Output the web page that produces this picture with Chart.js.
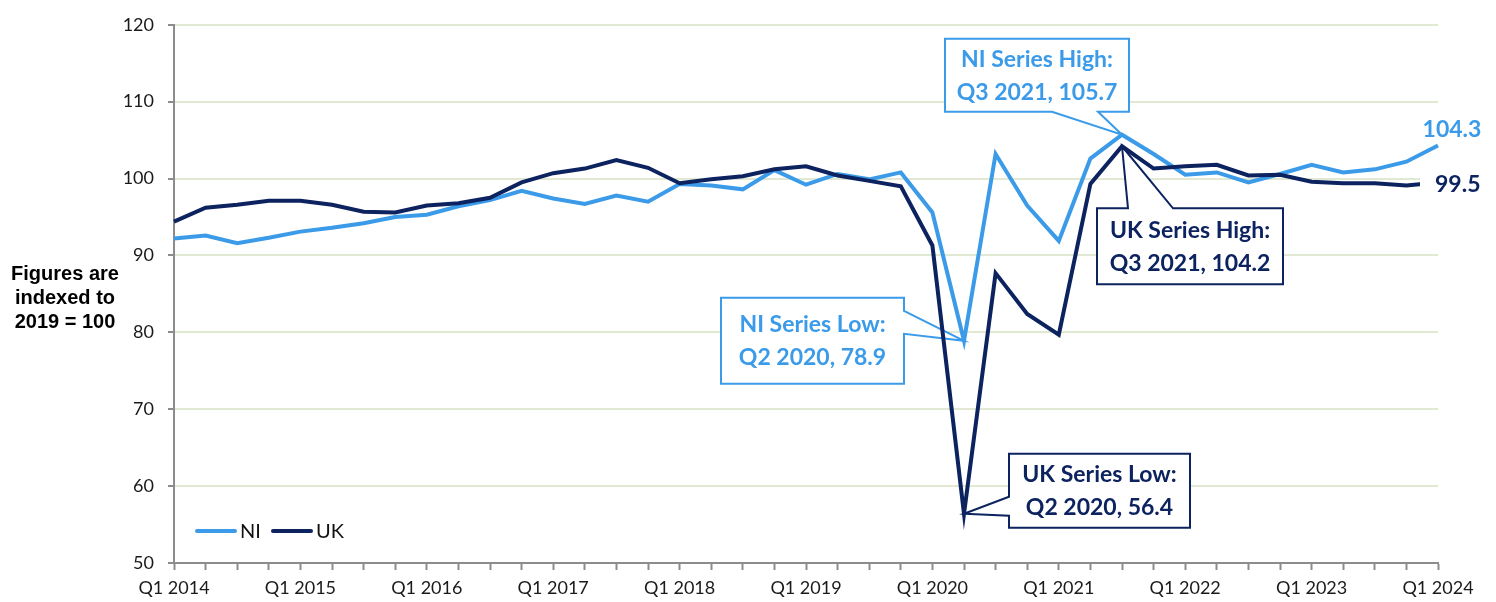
<!DOCTYPE html>
<html>
<head>
<meta charset="utf-8">
<title>NI and UK index, 2019 = 100</title>
<script src="https://cdn.jsdelivr.net/npm/chart.js@4.4.1/dist/chart.umd.min.js"></script>
<style>
  html, body { margin: 0; padding: 0; background: #fff; }
  #wrap { width: 1496px; height: 602px; }
</style>
</head>
<body>
<div id="wrap"><canvas id="indexChart" width="1496" height="602"></canvas></div>
<script>
const quarters = [
  "Q1 2014", "Q2 2014", "Q3 2014", "Q4 2014",
  "Q1 2015", "Q2 2015", "Q3 2015", "Q4 2015",
  "Q1 2016", "Q2 2016", "Q3 2016", "Q4 2016",
  "Q1 2017", "Q2 2017", "Q3 2017", "Q4 2017",
  "Q1 2018", "Q2 2018", "Q3 2018", "Q4 2018",
  "Q1 2019", "Q2 2019", "Q3 2019", "Q4 2019",
  "Q1 2020", "Q2 2020", "Q3 2020", "Q4 2020",
  "Q1 2021", "Q2 2021", "Q3 2021", "Q4 2021",
  "Q1 2022", "Q2 2022", "Q3 2022", "Q4 2022",
  "Q1 2023", "Q2 2023", "Q3 2023", "Q4 2023",
  "Q1 2024"
];
const niValues = [
  92.2, 92.6, 91.6, 92.3,
  93.1, 93.6, 94.2, 95.0,
  95.3, 96.4, 97.2, 98.4,
  97.4, 96.7, 97.8, 97.0,
  99.3, 99.1, 98.6, 101.1,
  99.2, 100.6, 99.9, 100.8,
  95.6, 78.9, 103.2, 96.5,
  91.9, 102.6, 105.7, 103.2,
  100.5, 100.8, 99.5, 100.6,
  101.8, 100.8, 101.2, 102.2,
  104.3
];
const ukValues = [
  94.4, 96.2, 96.6, 97.1,
  97.1, 96.6, 95.7, 95.6,
  96.5, 96.8, 97.5, 99.5,
  100.7, 101.3, 102.4, 101.4,
  99.4, 99.9, 100.3, 101.2,
  101.6, 100.4, 99.7, 99.0,
  91.3, 56.4, 87.7, 82.4,
  79.7, 99.3, 104.2, 101.3,
  101.6, 101.8, 100.4, 100.5,
  99.6, 99.4, 99.4, 99.1,
  99.5
];
const yMin = 50;
const yMax = 120;
const yStep = 10;
const seriesNames = ["NI", "UK"];
const seriesColors = ["#3b9be9", "#0c2360"];
const axisTitle = ["Figures are", "indexed to", "2019 = 100"];

// callouts: which series, which quarter, what it says
const calloutSeries = [0, 0, 1, 1];
const calloutQuarter = ["Q3 2021", "Q2 2020", "Q3 2021", "Q2 2020"];
const calloutText = [
  ["NI Series High:", "Q3 2021, 105.7"],
  ["NI Series Low:", "Q2 2020, 78.9"],
  ["UK Series High:", "Q3 2021, 104.2"],
  ["UK Series Low:", "Q2 2020, 56.4"]
];
const endLabels = ["104.3", "99.5"];

// box offsets from the point they point at (pixels), and where the pointer leaves the box
const calloutBoxes = [
  { l: -177, r: 7, t: -96, b: -23, side: "bottom", a: -70, z: -24 },
  { l: -243, r: -60, t: -43, b: 43, side: "right", a: -30, z: -7 },
  { l: -25, r: 161, t: 62, b: 138, side: "top", a: 6, z: 51 },
  { l: 45, r: 226, t: -60, b: 14, side: "left", a: -17, z: 2 }
];

const annotFont = "bold 23px Lato";

function calloutPath(ctx, px, py, box) {
  const l = px + box.l, r = px + box.r, t = py + box.t, b = py + box.b;
  ctx.beginPath();
  ctx.moveTo(l, t);
  if (box.side === "top") { ctx.lineTo(px + box.a, t); ctx.lineTo(px, py); ctx.lineTo(px + box.z, t); }
  ctx.lineTo(r, t);
  if (box.side === "right") { ctx.lineTo(r, py + box.a); ctx.lineTo(px, py); ctx.lineTo(r, py + box.z); }
  ctx.lineTo(r, b);
  if (box.side === "bottom") { ctx.lineTo(px + box.z, b); ctx.lineTo(px, py); ctx.lineTo(px + box.a, b); }
  ctx.lineTo(l, b);
  if (box.side === "left") { ctx.lineTo(l, py + box.z); ctx.lineTo(px, py); ctx.lineTo(l, py + box.a); }
  ctx.closePath();
}

const calloutPlugin = {
  id: "callouts",
  beforeDatasetsDraw(chart) {
    const ctx = chart.ctx;
    const xs = chart.scales.x, ys = chart.scales.y;
    ctx.save();
    calloutSeries.forEach((s, i) => {
      const idx = quarters.indexOf(calloutQuarter[i]);
      const val = chart.data.datasets[s].data[idx];
      const px = xs.getPixelForValue(idx);
      const py = ys.getPixelForValue(val);
      const box = calloutBoxes[i];
      calloutPath(ctx, px, py, box);
      ctx.fillStyle = "#ffffff";
      ctx.fill();
      ctx.lineWidth = 2;
      ctx.lineJoin = "miter";
      ctx.strokeStyle = seriesColors[s];
      ctx.stroke();
      const cx = px + (box.l + box.r) / 2;
      const cy = py + (box.t + box.b) / 2;
      ctx.font = annotFont;
      ctx.fillStyle = seriesColors[s];
      ctx.textAlign = "center";
      ctx.textBaseline = "middle";
      ctx.fillText(calloutText[i][0], cx, cy - 16);
      ctx.fillText(calloutText[i][1], cx, cy + 17);
    });
    ctx.restore();
  },
  afterDatasetsDraw(chart) {
    const ctx = chart.ctx;
    const xs = chart.scales.x, ys = chart.scales.y;
    const last = quarters.length - 1;
    ctx.save();
    ctx.font = "bold 23px Lato";
    ctx.textBaseline = "middle";

    // NI end label sits above the line end
    let px = xs.getPixelForValue(last);
    let py = ys.getPixelForValue(niValues[last]);
    ctx.fillStyle = seriesColors[0];
    ctx.textAlign = "center";
    ctx.fillText(endLabels[0], px + 14, py - 16);

    // UK end label has a white background that hides the last bit of line
    py = ys.getPixelForValue(ukValues[last]);
    ctx.fillStyle = "#ffffff";
    ctx.fillRect(px - 18, py - 13, 76, 28);
    ctx.fillStyle = seriesColors[1];
    ctx.textAlign = "left";
    ctx.fillText(endLabels[1], px - 3, py + 2);

    // legend inside the plot, bottom left
    const area = chart.chartArea;
    const ly = area.bottom - 32;
    let lx = area.left + 23;
    ctx.font = "20px Lato";
    ctx.lineCap = "round";
    ctx.lineWidth = 4;
    seriesNames.forEach((name, i) => {
      ctx.strokeStyle = seriesColors[i];
      ctx.beginPath();
      ctx.moveTo(lx, ly);
      ctx.lineTo(lx + 38, ly);
      ctx.stroke();
      ctx.fillStyle = "#111111";
      ctx.fillText(name, lx + 43, ly + 1);
      lx += 76;
    });

    // horizontal axis title on the left
    ctx.font = "bold 20px 'Liberation Sans', Arial, sans-serif";
    ctx.fillStyle = "#000000";
    ctx.textAlign = "center";
    const ty = ys.getPixelForValue(85) + 5;
    axisTitle.forEach((line, i) => {
      ctx.fillText(line, 65, ty + (i - 1) * 24);
    });
    ctx.restore();
  }
};

new Chart(document.getElementById("indexChart").getContext("2d"), {
  type: "line",
  data: {
    labels: quarters,
    datasets: [
      {
        label: seriesNames[0],
        data: niValues,
        borderColor: seriesColors[0],
        backgroundColor: seriesColors[0],
        borderWidth: 4,
        pointRadius: 0,
        tension: 0,
        order: 1
      },
      {
        label: seriesNames[1],
        data: ukValues,
        borderColor: seriesColors[1],
        backgroundColor: seriesColors[1],
        borderWidth: 4,
        pointRadius: 0,
        tension: 0,
        order: 0
      }
    ]
  },
  options: {
    responsive: false,
    animation: false,
    devicePixelRatio: 1,
    layout: { padding: { left: 0, right: 58, top: 18, bottom: 0 } },
    plugins: {
      legend: { display: false },
      tooltip: { enabled: false }
    },
    scales: {
      x: {
        offset: false,
        afterFit: (scale) => { scale.height = 39; },
        grid: {
          drawOnChartArea: false,
          drawTicks: true,
          tickLength: 7,
          tickColor: "#8c8c8c",
          tickWidth: 2
        },
        border: { color: "#8c8c8c", width: 2 },
        ticks: {
          autoSkip: false,
          maxRotation: 0,
          minRotation: 0,
          padding: 7,
          color: "#1a1a1a",
          font: { family: "Lato", size: 18 },
          callback: function (value, index) {
            return index % 4 === 0 ? quarters[index] : "";
          }
        }
      },
      y: {
        min: yMin,
        max: yMax,
        afterFit: (scale) => { scale.width = 174; },
        grid: {
          color: "#e2e9d3",
          lineWidth: 2,
          tickLength: 6,
          tickColor: "#8c8c8c",
          tickWidth: 2
        },
        border: { color: "#8c8c8c", width: 2 },
        ticks: {
          stepSize: yStep,
          padding: 14,
          color: "#1a1a1a",
          font: { family: "Lato", size: 18 }
        }
      }
    }
  },
  plugins: [calloutPlugin]
});
</script>
</body>
</html>
